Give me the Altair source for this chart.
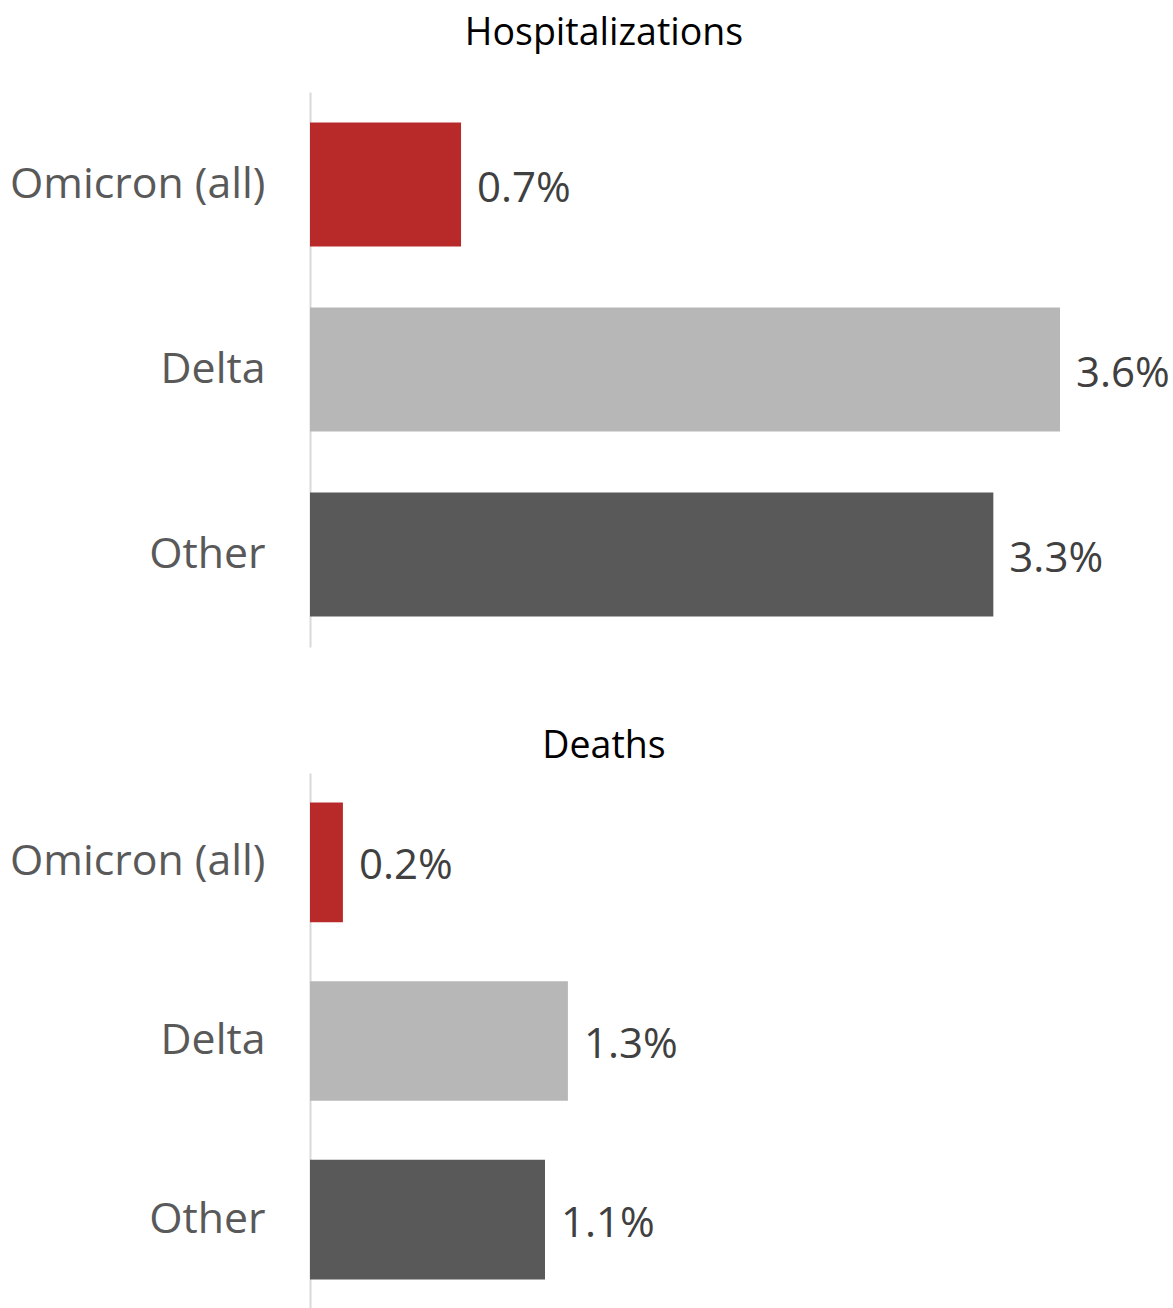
import altair as alt
import pandas as pd

categories = ["Omicron (all)", "Delta", "Other"]
hosp_values = [0.725, 3.6, 3.28]
hosp_labels = ["0.7%", "3.6%", "3.3%"]
death_values = [0.158, 1.238, 1.128]
death_labels = ["0.2%", "1.3%", "1.1%"]
colors = ["#B8292A", "#B7B7B7", "#595959"]

FONT = "Open Sans"
DOMAIN_MAX = 4.128


def panel(values, labels, title, height, title_offset):
    df = pd.DataFrame({"cat": categories, "val": values, "lab": labels})
    y = alt.Y("cat:N", sort=categories, title=None,
              scale=alt.Scale(paddingInner=0.33, paddingOuter=0.165),
              axis=alt.Axis(labelFontSize=42.8, labelColor="#595959", labelFont=FONT,
                            labelPadding=45, ticks=False, domainColor="#d9d9d9",
                            domainWidth=2, grid=False, labelLimit=500))
    x = alt.X("val:Q", scale=alt.Scale(domain=[0, DOMAIN_MAX], nice=False), axis=None)
    bars = alt.Chart(df).mark_bar().encode(
        y=y, x=x,
        color=alt.Color("cat:N", scale=alt.Scale(domain=categories, range=colors), legend=None),
    )
    text = alt.Chart(df).mark_text(align="left", baseline="middle", dx=16, dy=4,
                                   fontSize=42, font=FONT, color="#404040").encode(
        y=alt.Y("cat:N", sort=categories), x=x, text="lab:N")
    return (bars + text).properties(
        width=860, height=height,
        title=alt.TitleParams(title, fontSize=37.5, font=FONT, fontWeight="normal",
                              color="#000000", anchor="middle", frame="group",
                              dx=-136, offset=title_offset),
    )


top = panel(hosp_values, hosp_labels, "Hospitalizations", 555, 40)
bottom = panel(death_values, death_labels, "Deaths", 536, 8)

chart = alt.vconcat(top, bottom, spacing=80).properties(
    padding={"left": 9, "top": 14, "right": 0, "bottom": 0},
    background="white",
).configure_view(stroke=None)

chart.save("out.html", embed_options={"renderer": "svg", "actions": False})
